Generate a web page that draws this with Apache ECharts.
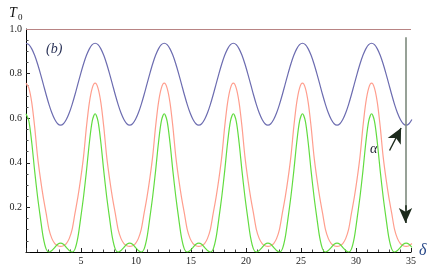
<!DOCTYPE html>
<html>
<head>
<meta charset="utf-8">
<script src="https://cdn.jsdelivr.net/npm/echarts@6/dist/echarts.min.js"></script>
<style>
html,body{margin:0;padding:0;background:#fff;}
#chart{width:437px;height:273px;}
</style>
</head>
<body>
<div id="chart"></div>
<script>
// sample positions of delta (read at steps of about pi/12)
const delta = [0,0.262,0.524,0.785,1.047,1.309,1.571,1.833,2.094,2.356,2.618,2.880,3.142,3.403,3.665,3.927,4.189,4.451,4.712,4.974,5.236,5.498,5.760,6.021,
6.283,6.545,6.807,7.069,7.330,7.592,7.854,8.116,8.378,8.639,8.901,9.163,9.425,9.687,9.948,10.210,10.472,10.734,10.996,11.257,11.519,11.781,12.043,12.305,
12.566,12.828,13.090,13.352,13.614,13.875,14.137,14.399,14.661,14.923,15.184,15.446,15.708,15.970,16.232,16.493,16.755,17.017,17.279,17.541,17.802,18.064,18.326,18.588,
18.850,19.111,19.373,19.635,19.897,20.159,20.420,20.682,20.944,21.206,21.468,21.729,21.991,22.253,22.515,22.777,23.038,23.300,23.562,23.824,24.086,24.347,24.609,24.871,
25.133,25.395,25.656,25.918,26.180,26.442,26.704,26.965,27.227,27.489,27.751,28.013,28.274,28.536,28.798,29.060,29.322,29.583,29.845,30.107,30.369,30.631,30.892,31.154,
31.416,31.678,31.940,32.201,32.463,32.725,32.987,33.249,33.510,33.772,34.034,34.296,34.558,34.819,35.081];

const blueT = [0.936,0.930,0.911,0.882,0.844,0.800,0.753,0.705,0.661,0.623,0.594,0.575,0.569,0.575,0.594,0.623,0.661,0.705,0.753,0.800,0.844,0.882,0.911,0.930,
0.936,0.930,0.911,0.882,0.844,0.800,0.753,0.705,0.661,0.623,0.594,0.575,0.569,0.575,0.594,0.623,0.661,0.705,0.753,0.800,0.844,0.882,0.911,0.930,
0.936,0.930,0.911,0.882,0.844,0.800,0.753,0.705,0.661,0.623,0.594,0.575,0.569,0.575,0.594,0.623,0.661,0.705,0.753,0.800,0.844,0.882,0.911,0.930,
0.936,0.930,0.911,0.882,0.844,0.800,0.753,0.705,0.661,0.623,0.594,0.575,0.569,0.575,0.594,0.623,0.661,0.705,0.753,0.800,0.844,0.882,0.911,0.930,
0.936,0.930,0.911,0.882,0.844,0.800,0.753,0.705,0.661,0.623,0.594,0.575,0.569,0.575,0.594,0.623,0.661,0.705,0.753,0.800,0.844,0.882,0.911,0.930,
0.936,0.930,0.911,0.882,0.844,0.800,0.753,0.705,0.661,0.623,0.594,0.575,0.569,0.575,0.594];

const redT = [0.757,0.735,0.670,0.562,0.430,0.330,0.245,0.173,0.100,0.060,0.038,0.028,0.025,0.028,0.038,0.060,0.100,0.173,0.245,0.330,0.430,0.562,0.670,0.735,
0.757,0.735,0.670,0.562,0.430,0.330,0.245,0.173,0.100,0.060,0.038,0.028,0.025,0.028,0.038,0.060,0.100,0.173,0.245,0.330,0.430,0.562,0.670,0.735,
0.757,0.735,0.670,0.562,0.430,0.330,0.245,0.173,0.100,0.060,0.038,0.028,0.025,0.028,0.038,0.060,0.100,0.173,0.245,0.330,0.430,0.562,0.670,0.735,
0.757,0.735,0.670,0.562,0.430,0.330,0.245,0.173,0.100,0.060,0.038,0.028,0.025,0.028,0.038,0.060,0.100,0.173,0.245,0.330,0.430,0.562,0.670,0.735,
0.757,0.735,0.670,0.562,0.430,0.330,0.245,0.173,0.100,0.060,0.038,0.028,0.025,0.028,0.038,0.060,0.100,0.173,0.245,0.330,0.430,0.562,0.670,0.735,
0.757,0.735,0.670,0.562,0.430,0.330,0.245,0.173,0.100,0.060,0.038,0.028,0.025,0.028,0.038];

const greenT = [0.620,0.587,0.490,0.364,0.250,0.153,0.064,0.013,0.000,0.007,0.021,0.035,0.040,0.035,0.021,0.007,0.000,0.013,0.064,0.153,0.250,0.364,0.490,0.587,
0.620,0.587,0.490,0.364,0.250,0.153,0.064,0.013,0.000,0.007,0.021,0.035,0.040,0.035,0.021,0.007,0.000,0.013,0.064,0.153,0.250,0.364,0.490,0.587,
0.620,0.587,0.490,0.364,0.250,0.153,0.064,0.013,0.000,0.007,0.021,0.035,0.040,0.035,0.021,0.007,0.000,0.013,0.064,0.153,0.250,0.364,0.490,0.587,
0.620,0.587,0.490,0.364,0.250,0.153,0.064,0.013,0.000,0.007,0.021,0.035,0.040,0.035,0.021,0.007,0.000,0.013,0.064,0.153,0.250,0.364,0.490,0.587,
0.620,0.587,0.490,0.364,0.250,0.153,0.064,0.013,0.000,0.007,0.021,0.035,0.040,0.035,0.021,0.007,0.000,0.013,0.064,0.153,0.250,0.364,0.490,0.587,
0.620,0.587,0.490,0.364,0.250,0.153,0.064,0.013,0.000,0.007,0.021,0.035,0.040,0.035,0.021];

const xTickLabels = [5,10,15,20,25,30,35];
const yTickLabels = [0.2,0.4,0.6,0.8,1.0];

const serif = '"Liberation Serif","DejaVu Serif",serif';
const chart = echarts.init(document.getElementById('chart'), null, {renderer:'canvas'});

function pairs(ys){ return delta.map((d,i)=>[d, ys[i]]); }

chart.setOption({
  animation:false,
  backgroundColor:'#ffffff',
  grid:{left:26, top:29, width:385, height:223, containLabel:false},
  xAxis:{
    type:'value', min:0, max:35, interval:5,
    axisLine:{lineStyle:{color:'#000', width:1}},
    axisTick:{inside:true, length:4, lineStyle:{color:'#222'}},
    minorTick:{show:true, splitNumber:5, length:2.5, lineStyle:{color:'#444'}},
    splitLine:{show:false},
    axisLabel:{margin:4, fontFamily:serif, fontSize:10, color:'#1a1a1a',
      formatter:v=> xTickLabels.indexOf(v)>=0 ? String(v) : ''}
  },
  yAxis:{
    type:'value', min:0, max:1, interval:0.2,
    axisLine:{show:true, lineStyle:{color:'#000', width:1}},
    axisTick:{show:true, inside:true, length:4, lineStyle:{color:'#222'}},
    minorTick:{show:true, splitNumber:4, length:2.5, lineStyle:{color:'#444'}},
    splitLine:{show:false},
    axisLabel:{margin:4, fontFamily:serif, fontSize:10, color:'#1a1a1a',
      formatter:v=>{ const r=Math.round(v*10)/10; return yTickLabels.indexOf(r)>=0 && v>0 ? r.toFixed(1) : ''; }}
  },
  series:[
    {type:'line', data:pairs(blueT), showSymbol:false, smooth:0.3, lineStyle:{color:'#6c6cb0', width:1.2},
     markLine:{silent:true, symbol:'none', label:{show:false},
       data:[{yAxis:1, lineStyle:{color:'#b88484', width:1, type:'solid'}}]}},
    {type:'line', data:pairs(redT), showSymbol:false, smooth:0.3, lineStyle:{color:'#ff9e8e', width:1.2}},
    {type:'line', data:pairs(greenT), showSymbol:false, smooth:0.3, lineStyle:{color:'#62dc40', width:1.2},
     markLine:{silent:true, label:{show:false}, animation:false,
       data:[
         [{coord:[34.5,0.963], symbol:'none', lineStyle:{color:'#7d8a7d', width:1.6, type:'solid'}},
          {coord:[34.5,0.19], symbol:'none'}],
         [{coord:[34.5,0.21], symbol:'none', lineStyle:{color:'#1c2a1c', width:1.6, type:'solid'}},
          {coord:[34.5,0.13], symbol:'arrow', symbolSize:[10,15]}],
         [{coord:[33.05,0.455], symbol:'none', lineStyle:{color:'#1c2a1c', width:1.4, type:'solid'}},
          {coord:[34.1,0.556], symbol:'arrow', symbolSize:[11,15]}]
       ]}}
  ],
  graphic:[
    {type:'text', left:46, top:42, style:{text:'(b)', font:'italic 14px '+serif, fill:'#2b3358'}},
    {type:'text', left:370, top:142, style:{text:'α', font:'italic 14px '+serif, fill:'#1e2230'}},
    {type:'text', left:9, top:6, style:{text:'T', font:'italic 14px '+serif, fill:'#111'}},
    {type:'text', left:18, top:13, style:{text:'0', font:'9px '+serif, fill:'#111'}},
    {type:'text', left:419, top:243, style:{text:'δ', font:'italic 16px '+serif, fill:'#2a4a8a'}}
  ]
});
</script>
</body>
</html>
